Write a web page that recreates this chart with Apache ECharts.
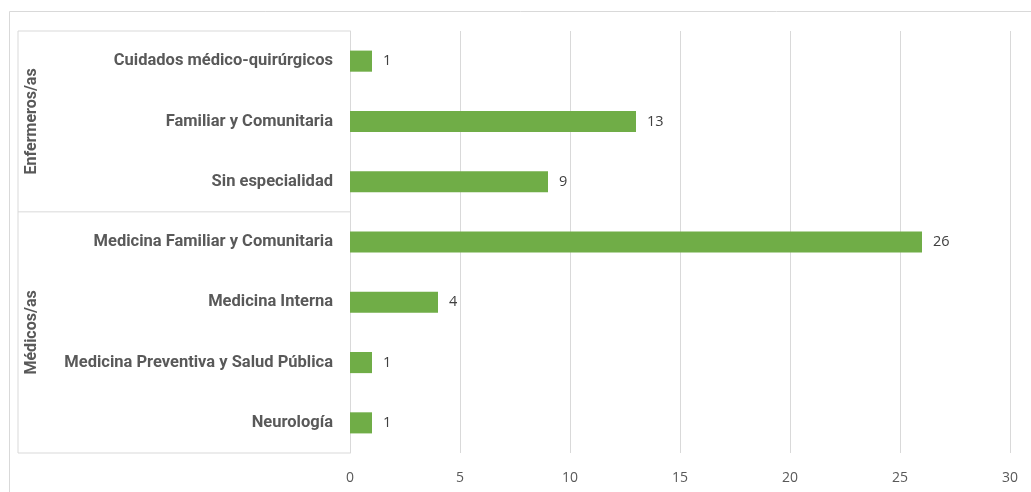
<!DOCTYPE html>
<html>
<head>
<meta charset="utf-8">
<script src="https://cdn.jsdelivr.net/npm/echarts@6/dist/echarts.min.js"></script>
<style>
html,body{margin:0;padding:0;background:#fff;}
#chart{width:1031px;height:492px;}
</style>
</head>
<body>
<div id="chart"></div>
<script>
// Specialties, listed top to bottom
const categories = [
  'Cuidados médico-quirúrgicos',
  'Familiar y Comunitaria',
  'Sin especialidad',
  'Medicina Familiar y Comunitaria',
  'Medicina Interna',
  'Medicina Preventiva y Salud Pública',
  'Neurología'
];
const values = [1, 13, 9, 26, 4, 1, 1];
// Professional groups and how many categories each spans
const groups = ['Enfermeros/as', 'Médicos/as'];
const groupSizes = [3, 4];
const xTicks = { min: 0, max: 30, interval: 5 };

const chart = echarts.init(document.getElementById('chart'));
const lineColor = '#d9d9d9';

chart.setOption({
  animation: false,
  grid: { left: 350, right: 21, top: 31, bottom: 39, containLabel: false },
  xAxis: {
    type: 'value',
    min: xTicks.min, max: xTicks.max, interval: xTicks.interval,
    axisLine: { show: false },
    axisTick: { show: false },
    splitLine: { show: true, lineStyle: { color: lineColor, width: 1 } },
    axisLabel: { color: '#595959', fontFamily: 'Open Sans', fontSize: 14, margin: 18 }
  },
  yAxis: {
    type: 'category',
    data: categories,
    inverse: true,
    axisLine: { show: true, lineStyle: { color: lineColor, width: 1 } },
    axisTick: { show: false },
    axisLabel: { color: '#595959', fontFamily: 'Roboto', fontWeight: 'bold', fontSize: 16.5, margin: 17, padding: [2, 0, 0, 0] }
  },
  series: [{
    type: 'bar',
    data: values,
    barWidth: '35%',
    itemStyle: { color: '#70ad47' },
    label: {
      show: true, position: 'right', distance: 11,
      color: '#404040', fontFamily: 'Open Sans', fontSize: 14.5
    }
  }]
});

// Group boxes and rotated group labels for the two-level category axis
function drawGroups() {
  const x0 = chart.convertToPixel({ gridIndex: 0 }, [0, 0])[0];
  const leftX = 18;
  const first = chart.convertToPixel({ yAxisIndex: 0 }, 0);
  const second = chart.convertToPixel({ yAxisIndex: 0 }, 1);
  const step = second - first;
  const top = first - step / 2;
  const elems = [];
  // outer chart border
  elems.push({ type: 'rect', shape: { x: 9.5, y: 11.5, width: 1040, height: 500 },
    style: { fill: null, stroke: lineColor, lineWidth: 1 }, silent: true });
  elems.push({ type: 'line', shape: { x1: leftX, y1: top, x2: leftX, y2: top + step * categories.length },
    style: { stroke: lineColor, lineWidth: 1 } });
  let idx = 0;
  elems.push({ type: 'line', shape: { x1: leftX, y1: top, x2: x0, y2: top }, style: { stroke: lineColor, lineWidth: 1 } });
  groups.forEach((g, i) => {
    const yStart = top + idx * step;
    idx += groupSizes[i];
    const yEnd = top + idx * step;
    elems.push({ type: 'line', shape: { x1: leftX, y1: yEnd, x2: x0, y2: yEnd }, style: { stroke: lineColor, lineWidth: 1 } });
    elems.push({
      type: 'text', x: leftX + 14, y: (yStart + yEnd) / 2, rotation: Math.PI / 2,
      style: { text: g, fill: '#595959', font: 'bold 16px Roboto', align: 'center', verticalAlign: 'middle' }
    });
  });
  chart.setOption({ graphic: elems });
}
drawGroups();
</script>
</body>
</html>
